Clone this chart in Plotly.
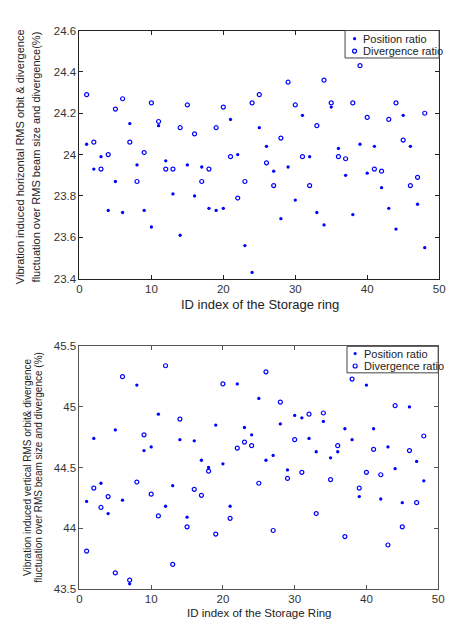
import plotly.graph_objects as go

# ---------------- data ----------------
ids = list(range(1, 49))

h_position = [24.05, 23.93, 23.99, 23.73, 23.87, 23.72, 24.15, 23.95, 23.73, 23.65,
              24.14, 23.97, 23.81, 23.61, 23.95, 23.80, 23.94, 23.74, 23.73, 23.74,
              24.17, 24.00, 23.56, 23.43, 24.13, 24.04, 23.92, 23.69, 23.94, 23.78,
              24.19, 23.99, 23.72, 23.66, 24.23, 24.03, 23.90, 23.71, 24.05, 23.91,
              24.04, 23.84, 23.74, 23.64, 24.19, 24.04, 23.76, 23.55]
h_divergence = [24.29, 24.06, 23.93, 24.00, 24.22, 24.27, 24.06, 23.87, 24.01, 24.25,
                24.16, 23.93, 23.93, 24.13, 24.24, 24.10, 23.87, 23.93, 24.13, 24.23,
                23.99, 23.79, 23.87, 24.25, 24.29, 23.96, 23.85, 24.08, 24.35, 24.24,
                23.99, 23.85, 24.14, 24.36, 24.25, 23.99, 23.98, 24.25, 24.43, 24.18,
                23.93, 23.92, 24.17, 24.25, 24.07, 23.85, 23.89, 24.20]

v_position = [44.22, 44.74, 44.37, 44.12, 44.81, 44.23, 43.54, 45.18, 44.64, 44.67,
              44.94, 44.18, 44.35, 44.73, 44.09, 44.72, 44.56, 44.50, 44.85, 44.53,
              44.18, 45.19, 44.83, 44.77, 45.07, 44.56, 44.60, 44.86, 44.48, 44.93,
              44.91, 44.74, 44.63, 44.88, 44.58, 44.63, 44.82, 44.73, 44.26, 45.18,
              44.82, 44.24, 44.67, 44.49, 44.21, 45.00, 44.55, 44.39]
v_divergence = [43.81, 44.33, 44.17, 44.26, 43.63, 45.25, 43.57, 44.38, 44.77, 44.28,
                44.10, 45.34, 43.70, 44.90, 44.01, 44.32, 44.27, 44.47, 43.95, 45.19,
                44.08, 44.66, 44.71, 44.68, 44.37, 45.29, 43.98, 45.04, 44.41, 44.73,
                44.46, 44.94, 44.12, 44.95, 44.40, 44.68, 43.93, 45.23, 44.33, 44.46,
                44.65, 44.44, 43.86, 45.01, 44.01, 44.64, 44.21, 44.76]

x_ticks = [0, 10, 20, 30, 40, 50]
h_ticks = [23.4, 23.6, 23.8, 24.0, 24.2, 24.4, 24.6]
h_tick_text = ["23.4", "23.6", "23.8", "24", "24.2", "24.4", "24.6"]
v_ticks = [43.5, 44.0, 44.5, 45.0, 45.5]
v_tick_text = ["43.5", "44", "44.5", "45", "45.5"]

legend_names = ["Position ratio", "Divergence ratio"]

# ---------------- layout helpers ----------------
W, H = 452, 627
FONT = "Liberation Sans, Arial, sans-serif"
BLUE = "#0000ff"


def fx(px):
    return px / W


def fy(py):
    return 1 - py / H


fig = go.Figure()

dot_marker = dict(symbol="circle", size=3.3, color=BLUE)
ring_marker = dict(symbol="circle-open", size=4, color=BLUE, line=dict(width=1.2, color=BLUE))

fig.add_trace(go.Scatter(x=ids, y=h_position, mode="markers", marker=dot_marker,
                         name=legend_names[0], xaxis="x", yaxis="y", showlegend=False))
fig.add_trace(go.Scatter(x=ids, y=h_divergence, mode="markers", marker=ring_marker,
                         name=legend_names[1], xaxis="x", yaxis="y", showlegend=False))
fig.add_trace(go.Scatter(x=ids, y=v_position, mode="markers", marker=dot_marker,
                         name=legend_names[0], xaxis="x2", yaxis="y2", showlegend=False))
fig.add_trace(go.Scatter(x=ids, y=v_divergence, mode="markers", marker=ring_marker,
                         name=legend_names[1], xaxis="x2", yaxis="y2", showlegend=False))

tickfont = dict(family=FONT, size=11.5, color="#333333")


def axis_common(linecolor):
    return dict(showline=True, linecolor=linecolor, linewidth=1, mirror="ticks",
                ticks="inside", ticklen=4, tickcolor=linecolor, tickwidth=1,
                showgrid=False, zeroline=False, tickfont=tickfont)


fig.update_layout(
    width=W, height=H, autosize=False,
    margin=dict(l=0, r=0, t=0, b=0),
    paper_bgcolor="white", plot_bgcolor="white",
    showlegend=False,
    xaxis=dict(domain=[fx(78), fx(445)], anchor="y", range=[0, 50],
               tickvals=x_ticks, **axis_common("#222222")),
    yaxis=dict(domain=[fy(278), fy(25)], anchor="x", range=[23.4, 24.6],
               tickvals=h_ticks, ticktext=h_tick_text, **axis_common("#222222")),
    xaxis2=dict(domain=[fx(78), fx(444)], anchor="y2", range=[0, 50],
                tickvals=x_ticks, **axis_common("#555555")),
    yaxis2=dict(domain=[fy(594), fy(347)], anchor="x2", range=[43.5, 45.5],
                tickvals=v_ticks, ticktext=v_tick_text, **axis_common("#555555")),
)

annotations = []
shapes = []


def text_ann(px, py, text, size, angle=0, xanchor="center"):
    annotations.append(dict(x=fx(px), y=fy(py), xref="paper", yref="paper", text=text,
                            showarrow=False, textangle=angle, xanchor=xanchor,
                            yanchor="middle", font=dict(family=FONT, size=size, color="#222222")))


# axis titles
text_ann(262, 304, "ID index of the Storage ring", 13)
text_ann(261, 619, "ID index of the Storage Ring", 11.5)
text_ann(17.5, 154, "Vibration induced horizontal RMS orbit &amp; divergence", 11, -90)
text_ann(34, 154, "fluctuation over RMS beam size and divergence(%)", 11, -90)
text_ann(24.5, 470, "Vibration induced vertical RMS orbit&amp; divergence", 10, -90)
text_ann(35.5, 470, "fluctuation over RMS beam size and divergence (%)", 10, -90)


def legend_box(x0, x1, y0, y1, mx, tx, r1, r2, border):
    shapes.append(dict(type="rect", xref="paper", yref="paper",
                       x0=fx(x0), x1=fx(x1), y0=fy(y1), y1=fy(y0),
                       line=dict(color=border, width=1), fillcolor="white", layer="above"))
    shapes.append(dict(type="circle", xref="paper", yref="paper",
                       xsizemode="pixel", ysizemode="pixel",
                       xanchor=fx(mx), yanchor=fy(r1),
                       x0=-1.6, x1=1.6, y0=-1.6, y1=1.6,
                       fillcolor=BLUE, line=dict(color=BLUE, width=0), layer="above"))
    shapes.append(dict(type="circle", xref="paper", yref="paper",
                       xsizemode="pixel", ysizemode="pixel",
                       xanchor=fx(mx), yanchor=fy(r2),
                       x0=-2.0, x1=2.0, y0=-2.0, y1=2.0,
                       fillcolor="rgba(0,0,0,0)", line=dict(color=BLUE, width=1.2), layer="above"))
    text_ann(tx, r1, legend_names[0], 11, 0, "left")
    text_ann(tx, r2, legend_names[1], 11, 0, "left")


legend_box(349, 445, 25, 53, 358.7, 365.5, 33.3, 46, "#444444")
legend_box(351, 444, 347, 374, 359.3, 366, 354.3, 367, "#444444")

fig.update_layout(annotations=annotations, shapes=shapes)

fig.write_html("out.html")
